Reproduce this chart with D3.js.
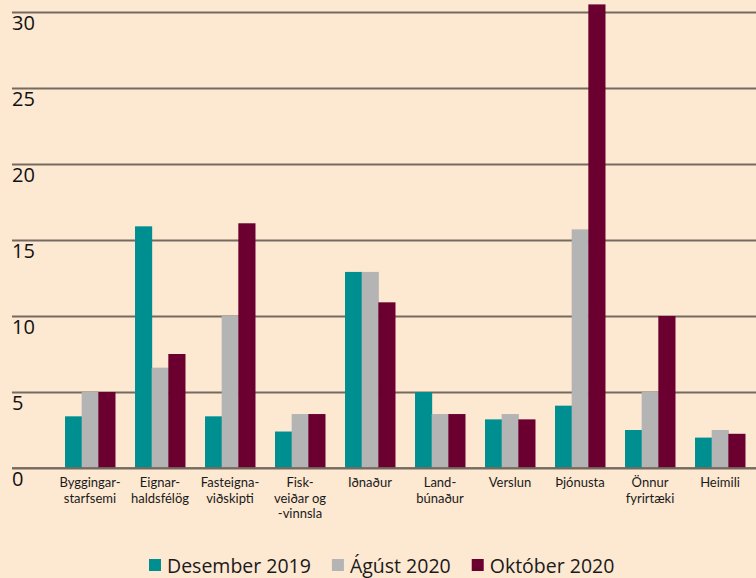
<!DOCTYPE html>
<html>
<head>
<meta charset="utf-8">
<script src="https://cdn.jsdelivr.net/npm/d3@7"></script>
<style>
  html, body { margin: 0; padding: 0; background: #fde8d2; }
  svg { display: block; }
  text { font-family: "Open Sans", "Noto Sans", sans-serif; fill: #1a1a1a; }
  .cat { font-family: Lato, "Open Sans", sans-serif; }
</style>
</head>
<body>
<svg id="svg"></svg>
<script>
// categories (label lines) and the three series
const categories = [
  ['Byggingar-', 'starfsemi'],
  ['Eignar-', 'haldsfélög'],
  ['Fasteigna-', 'viðskipti'],
  ['Fisk-', 'veiðar og', '-vinnsla'],
  ['Iðnaður'],
  ['Land-', 'búnaður'],
  ['Verslun'],
  ['Þjónusta'],
  ['Önnur', 'fyrirtæki'],
  ['Heimili']
];
const seriesNames = ['Desember 2019', 'Ágúst 2020', 'Október 2020'];
const des2019 = [3.4, 15.9, 3.4, 2.4, 12.9, 5.0, 3.2, 4.1, 2.5, 2.0];
const agu2020 = [5.0, 6.6, 10.0, 3.55, 12.9, 3.55, 3.55, 15.7, 5.0, 2.5];
const okt2020 = [5.0, 7.5, 16.1, 3.55, 10.9, 3.55, 3.2, 30.5, 10.0, 2.25];
const yTicks = [0, 5, 10, 15, 20, 25, 30];
const colors = ['#008f91', '#b4b4b4', '#6b0030'];

const width = 756, height = 578;
const svg = d3.select('#svg').attr('width', width).attr('height', height);

const keys = categories.map((d, i) => i);
const seriesData = [des2019, agu2020, okt2020];

const xScale = d3.scaleBand()
  .domain(keys)
  .range([55, 755])
  .paddingInner(0.286)
  .paddingOuter(0.143);

const xInner = d3.scaleBand()
  .domain(seriesNames)
  .range([0, xScale.bandwidth()]);

const yScale = d3.scaleLinear()
  .domain([0, 30])
  .range([468, 12]);

const colorScale = d3.scaleOrdinal().domain(seriesNames).range(colors);

// gridlines + y labels
const yAxis = svg.append('g')
  .attr('class', 'axis-Y')
  .attr('transform', 'translate(12,0)')
  .call(d3.axisRight(yScale).tickValues(yTicks).tickSize(width - 12).tickFormat(d3.format('d')));
yAxis.select('.domain').remove();
yAxis.selectAll('.tick line').attr('stroke', '#756a60').attr('stroke-width', 2);
yAxis.selectAll('.tick text')
  .attr('x', 0)
  .attr('dy', 17)
  .attr('text-anchor', 'start')
  .style('font-size', '20px')
  .style('fill', '#111');

// bars
const group = svg.append('g').selectAll('.grp')
  .data(keys)
  .enter()
  .append('g')
  .attr('class', 'grp')
  .attr('transform', d => `translate(${xScale(d)},0)`);

group.selectAll('rect')
  .data(i => seriesNames.map((s, j) => ({s: s, v: seriesData[j][i]})))
  .enter()
  .append('rect')
  .attr('x', d => xInner(d.s))
  .attr('width', xInner.bandwidth() + 0.5)
  .attr('y', d => yScale(d.v))
  .attr('height', d => yScale(0) - yScale(d.v))
  .attr('fill', d => colorScale(d.s));

// baseline on top of bars
svg.append('line')
  .attr('x1', 12).attr('x2', width)
  .attr('y1', yScale(0)).attr('y2', yScale(0))
  .attr('stroke', '#756a60').attr('stroke-width', 2).attr('opacity', 0.85);

// category labels, one text per line
const lines = [];
categories.forEach((c, i) => c.forEach((t, k) => lines.push({i: i, k: k, t: t})));
svg.append('g').selectAll('text')
  .data(lines)
  .enter()
  .append('text')
  .attr('class', 'cat')
  .attr('x', d => xScale(d.i) + xScale.bandwidth() / 2)
  .attr('y', d => 487 + d.k * 15.7)
  .attr('text-anchor', 'middle')
  .style('font-size', '13px')
  .text(d => d.t);

// legend
const legend = svg.append('g').attr('class', 'legend');
let lx = 149;
seriesNames.forEach((s, j) => {
  legend.append('rect')
    .attr('x', lx).attr('y', 559)
    .attr('width', 12).attr('height', 12)
    .attr('fill', colorScale(s));
  const t = legend.append('text')
    .attr('x', lx + 18).attr('y', 573)
    .style('font-size', '19.5px')
    .text(s);
  lx += 18 + t.node().getComputedTextLength() + 21;
});
</script>
</body>
</html>
